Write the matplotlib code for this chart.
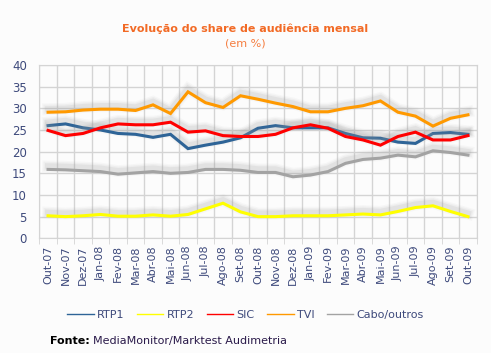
"""Evolucao do share de audiencia mensal (Out-07 a Out-09)."""

import matplotlib
matplotlib.use('Agg')
import matplotlib.pyplot as plt
import matplotlib.patheffects as pe
from matplotlib.lines import Line2D
import numpy as np

# ── Data ──

months = ['Out-07', 'Nov-07', 'Dez-07', 'Jan-08', 'Fev-08', 'Mar-08', 'Abr-08', 'Mai-08',
          'Jun-08', 'Jul-08', 'Ago-08', 'Set-08', 'Out-08', 'Nov-08', 'Dez-08', 'Jan-09',
          'Fev-09', 'Mar-09', 'Abr-09', 'Mai-09', 'Jun-09', 'Jul-09', 'Ago-09', 'Set-09', 'Out-09']

rtp1 = [26.0, 26.4, 25.5, 25.0, 24.2, 24.0, 23.3, 24.0, 20.7, 21.5, 22.2, 23.2,
        25.4, 26.0, 25.5, 25.5, 25.5, 24.2, 23.2, 23.1, 22.2, 21.9, 24.2, 24.4, 24.0]
rtp2 = [5.2, 5.0, 5.2, 5.5, 5.1, 5.1, 5.4, 5.1, 5.5, 6.8, 8.1, 6.1,
        5.0, 5.0, 5.2, 5.2, 5.2, 5.4, 5.6, 5.4, 6.2, 7.1, 7.5, 6.2, 5.0]
sic = [24.9, 23.7, 24.2, 25.5, 26.4, 26.2, 26.2, 26.8, 24.5, 24.8, 23.7, 23.5,
       23.5, 24.0, 25.5, 26.2, 25.4, 23.5, 22.7, 21.5, 23.5, 24.5, 22.7, 22.7, 23.7]
tvi = [29.1, 29.2, 29.6, 29.8, 29.8, 29.5, 30.8, 28.8, 33.8, 31.3, 30.2, 32.9,
       32.1, 31.2, 30.4, 29.2, 29.2, 30.0, 30.6, 31.7, 29.1, 28.2, 25.9, 27.7, 28.5]
cabo = [15.9, 15.8, 15.6, 15.4, 14.8, 15.1, 15.4, 15.0, 15.2, 15.9, 15.9, 15.7,
        15.2, 15.2, 14.2, 14.6, 15.4, 17.3, 18.2, 18.5, 19.2, 18.8, 20.2, 19.8, 19.2]

series = [('RTP1', rtp1, '#2e6497'),
          ('RTP2', rtp2, '#ffff00'),
          ('SIC', sic, '#ff0000'),
          ('TVI', tvi, '#ff9900'),
          ('Cabo/outros', cabo, '#a3a3a3')]

TXT = '#3e4a7c'
GRID = '#d4d4d4'

# soft grey shadow sitting a little above each line
shadow = [pe.SimpleLineShadow(offset=(0, 2.2), shadow_color='#a0a0a0', alpha=a, linewidth=w)
          for w, a in [(8.5, 0.06), (6.5, 0.09), (4.5, 0.14)]] + [pe.Normal()]

fig = plt.figure(figsize=(4.91, 3.53), dpi=100, facecolor='#fcfcfc')
ax = fig.add_axes([39.3 / 491, 1 - 238.3 / 353, 437.4 / 491, 173.3 / 353])
ax.set_facecolor('#fcfcfc')

x = np.arange(len(months))
for name, vals, col in series:
    ax.plot(x, vals, color=col, lw=2.2, solid_joinstyle='miter', path_effects=shadow, zorder=3)

ax.set_xlim(-0.5, len(months) - 0.5)
ax.set_ylim(0, 40)
ax.set_yticks(range(0, 41, 5))
ax.set_xticks(x)
ax.set_xticklabels(months, rotation=90, fontsize=8, color=TXT)
ax.set_xticks(np.arange(-0.5, len(months)), minor=True)
ax.tick_params(axis='x', which='major', length=0, pad=5)
ax.tick_params(axis='x', which='minor', length=4, color=GRID)
ax.tick_params(axis='y', length=0, labelsize=8.5, labelcolor=TXT, pad=9)
ax.grid(True, which='minor', axis='x', color=GRID, lw=1)
ax.grid(True, which='major', axis='y', color=GRID, lw=1)
for s in ax.spines.values():
    s.set_color(GRID)

fig.text(0.5, 1 - 29 / 353, 'Evolução do share de audiência mensal', ha='center', va='center',
         fontsize=8, fontweight='bold', color='#f26a25')
fig.text(0.5, 1 - 43 / 353, '(em %)', ha='center', va='center', fontsize=8, color='#f57d3f')

handles = [Line2D([], [], color=col, lw=1) for _, _, col in series]
fig.legend(handles, [n for n, _, _ in series], loc='center', bbox_to_anchor=(0.5, 1 - 315 / 353),
           ncol=5, frameon=False, fontsize=8, handlelength=2.4, columnspacing=1.1,
           handletextpad=0.3, labelcolor=TXT)

t = fig.text(50 / 491, 1 - 341 / 353, 'Fonte:', ha='left', va='center', fontsize=8,
             fontweight='bold', color='black')
fig.canvas.draw()
bb = t.get_window_extent()
fig.text((bb.x1 + 3) / 491, 1 - 341 / 353, 'MediaMonitor/Marktest Audimetria', ha='left',
         va='center', fontsize=8, color='#2a1a4a')

plt.savefig('out.png', dpi=100, facecolor=fig.get_facecolor())
